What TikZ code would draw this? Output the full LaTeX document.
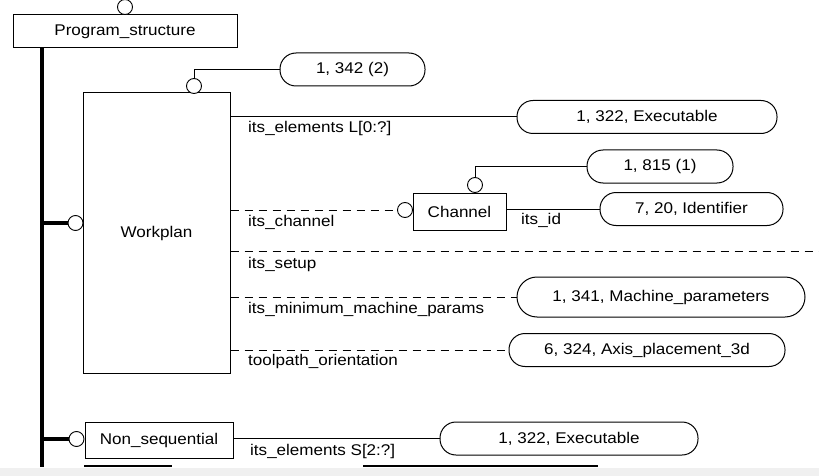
\documentclass[tikz,border=0pt]{standalone}
\usepackage{fontspec}
\setmainfont{Liberation Sans}[FakeStretch=1.1]
\definecolor{band}{HTML}{F0F0F0}
\begin{document}
\begin{tikzpicture}[x=1pt,y=-1pt,font=\fontsize{15.5}{18}\selectfont,
  box/.style={draw, line width=1pt, inner sep=0pt},
  pill/.style={draw, line width=1pt, rounded corners=16pt, minimum height=33pt, inner sep=0pt},
  ring/.style={draw, circle, line width=0.9pt, minimum size=15pt, inner sep=0pt, fill=white},
  lbl/.style={anchor=base west, inner sep=0pt},
  rel/.style={line width=1pt},
  opt/.style={line width=1pt, dash pattern=on 8pt off 6pt},
  trunk/.style={line width=4.5pt}]
\path[use as bounding box] (0,0) rectangle (819,476);
\clip (0,0) rectangle (819,476);
% nodes
\node[box, minimum width=224pt, minimum height=33pt] (ps) at (125,31.5) {Program\_structure};
\node[ring] (psr) at (125,7) {};
\node[box, minimum width=147pt, minimum height=280pt] (wp) at (156.5,233) {Workplan};
\node[ring] (wpt) at (194,86) {};
\node[ring] (wpl) at (75.5,223) {};
\node[pill, minimum width=145pt] (p1) at (352.5,69.5) {1, 342 (2)};
\node[pill, minimum width=260pt] (p2) at (647,117) {1, 322, Executable};
\node[box, minimum width=93pt, minimum height=37pt] (ch) at (459.5,211.5) {Channel};
\node[ring] (cht) at (475,185) {};
\node[ring] (chl) at (405,210) {};
\node[pill, minimum width=146pt] (p3) at (660,166.5) {1, 815 (1)};
\node[pill, minimum width=183pt] (p4) at (691.5,209) {7, 20, Identifier};
\node[pill, minimum width=288pt, minimum height=40pt, rounded corners=20pt] (p5) at (661,297) {1, 341, Machine\_parameters};
\node[pill, minimum width=276pt] (p6) at (647,350) {6, 324, Axis\_placement\_3d};
\node[box, minimum width=148pt, minimum height=36pt] (ns) at (159,440) {Non\_sequential};
\node[ring] (nsl) at (76.5,439) {};
\node[pill, minimum width=258pt] (p7) at (569,438.5) {1, 322, Executable};
% trunk
\coordinate (s1) at (42,48);
\coordinate (s2) at (42,467);
\draw[trunk] (s1) -- (s2);
\draw[trunk] (s1 |- wpl) -- (wpl.west);
\draw[trunk] (s1 |- nsl) -- (nsl.west);
% connectors
\draw[rel] (wpt.north) |- (p1.west);
\draw[rel] (wp.east |- p2.west) -- (p2.west);
\draw[opt] (wp.east |- chl) -- (chl.west);
\draw[rel] (cht.north) |- (p3.west);
\draw[rel] (ch.east |- p4.west) -- (p4.west);
\coordinate (setupend) at (819,251);
\draw[opt] (wp.east |- setupend) -- (setupend);
\draw[opt] (wp.east |- p5.west) -- (p5.west);
\draw[opt] (wp.east |- p6.west) -- (p6.west);
\draw[rel] (ns.east |- p7.west) -- (p7.west);
% labels
\node[lbl] (l1) at (248,133) {its\_elements L[0:?]};
\node[lbl] (l2) at (248,226) {its\_channel};
\node[lbl] (l3) at (521,224) {its\_id};
\node[lbl] (l4) at (248,268) {its\_setup};
\node[lbl] (l5) at (248,313) {its\_minimum\_machine\_params};
\node[lbl] (l6) at (248,365) {toolpath\_orientation};
\node[lbl] (l7) at (250,455) {its\_elements S[2:?]};
% cut-off bottom
\draw[line width=2pt] (84,466) -- (172,466);
\draw[line width=2pt] (363,466) -- (598,466);
\fill[band] (0,467.5) rectangle (819,476);
\end{tikzpicture}
\end{document}
